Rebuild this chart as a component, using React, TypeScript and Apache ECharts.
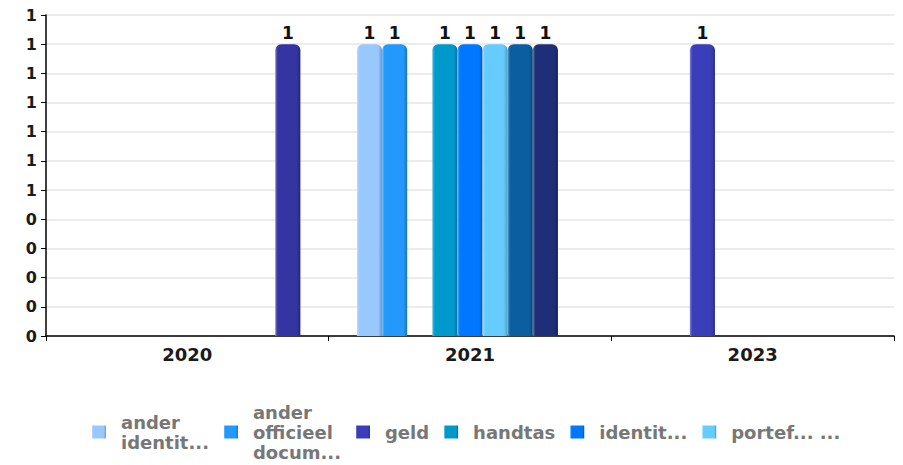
import React, { useEffect, useRef } from "react";
import * as echarts from "echarts";

const categories = ["2020", "2021", "2023"];
const seriesNames = [
  "ander identiteitsbewijs",
  "ander officieel document",
  "geld",
  "handtas",
  "identiteitskaart",
  "portefeuille",
  "rijbewijs",
  "sleutels",
  "telefoon",
];
const legendLabels = [
  "ander\nidentit...",
  "ander\nofficieel\ndocum...",
  "geld",
  "handtas",
  "identit...",
  "portef... ...",
];
const seriesColors = [
  "#99c8ff",
  "#2299fb",
  "#3a3eb8",
  "#0099cc",
  "#0077ff",
  "#66ccff",
  "#0b5e9f",
  "#1f2e78",
  "#3434a2",
];
const seriesValues: (number | null)[][] = [
  [null, 1, null],
  [null, 1, null],
  [null, null, 1],
  [null, 1, null],
  [null, 1, null],
  [null, 1, null],
  [null, 1, null],
  [null, 1, null],
  [1, null, null],
];
const yMin = 0;
const yMax = 1.1;
const yStep = 0.1;

function shade(hex: string, amt: number): string {
  const n = parseInt(hex.slice(1), 16);
  let r = (n >> 16) & 255;
  let g = (n >> 8) & 255;
  let b = n & 255;
  if (amt >= 0) {
    r = Math.round(r + (255 - r) * amt);
    g = Math.round(g + (255 - g) * amt);
    b = Math.round(b + (255 - b) * amt);
  } else {
    r = Math.round(r * (1 + amt));
    g = Math.round(g * (1 + amt));
    b = Math.round(b * (1 + amt));
  }
  return "rgb(" + r + "," + g + "," + b + ")";
}

export default function App() {
  const ref = useRef<HTMLDivElement>(null);
  useEffect(() => {
    if (!ref.current) return;
    const chart = echarts.init(ref.current, null, { renderer: "svg" });
    const font = "DejaVu Sans";
    chart.setOption({
      animation: false,
      backgroundColor: "#ffffff",
      grid: { left: 46, right: 9, top: 15, bottom: 129, containLabel: false },
      legend: {
        data: seriesNames.slice(0, 6),
        top: 402,
        left: 92,
        padding: 0,
        icon: "rect",
        itemWidth: 14,
        itemHeight: 13,
        itemGap: 15,
        formatter: (name: string) => legendLabels[seriesNames.indexOf(name)] ?? name,
        textStyle: {
          fontFamily: font,
          fontWeight: "bold",
          fontSize: 18,
          lineHeight: 20,
          color: "#777777",
          padding: [0, 0, 0, 10],
        },
      },
      xAxis: {
        type: "category",
        data: categories,
        axisLine: { show: true, lineStyle: { color: "#000", width: 1.5 } },
        axisTick: { show: true, length: 5, lineStyle: { color: "#000" } },
        axisLabel: {
          fontFamily: font,
          fontWeight: "bold",
          fontSize: 18,
          color: "#1a1a1a",
          margin: 9,
        },
        splitLine: { show: false },
      },
      yAxis: {
        type: "value",
        min: yMin,
        max: yMax,
        interval: yStep,
        axisLine: { show: true, lineStyle: { color: "#000", width: 1.5 } },
        axisTick: { show: true, length: 5, lineStyle: { color: "#000" } },
        axisLabel: {
          fontFamily: font,
          fontWeight: "bold",
          fontSize: 16,
          color: "#1a1a1a",
          margin: 9,
          formatter: (v: number) => String(Math.round(v + 1e-9)),
        },
        splitLine: { show: true, lineStyle: { color: "#e6e6e6", width: 1.5 } },
      },
      series: seriesNames.map((name, i) => ({
        name,
        type: "bar",
        data: seriesValues[i],
        barGap: "0%",
        barCategoryGap: "20%",
        itemStyle: {
          color: new echarts.graphic.LinearGradient(0, 0, 1, 0, [
            { offset: 0, color: shade(seriesColors[i], 0.35) },
            { offset: 0.1, color: seriesColors[i] },
            { offset: 0.85, color: seriesColors[i] },
            { offset: 1, color: shade(seriesColors[i], -0.25) },
          ]),
          borderRadius: [6, 6, 0, 0],
        },
        label: {
          show: true,
          position: "top",
          distance: 3,
          fontFamily: font,
          fontWeight: "bold",
          fontSize: 17,
          color: "#111",
          formatter: (p: any) => String(Math.round(p.value)),
        },
      })),
    });
    return () => chart.dispose();
  }, []);
  return (
    <div
      ref={ref}
      style={{ position: "absolute", left: 0, top: 0, width: 903, height: 465 }}
    />
  );
}
